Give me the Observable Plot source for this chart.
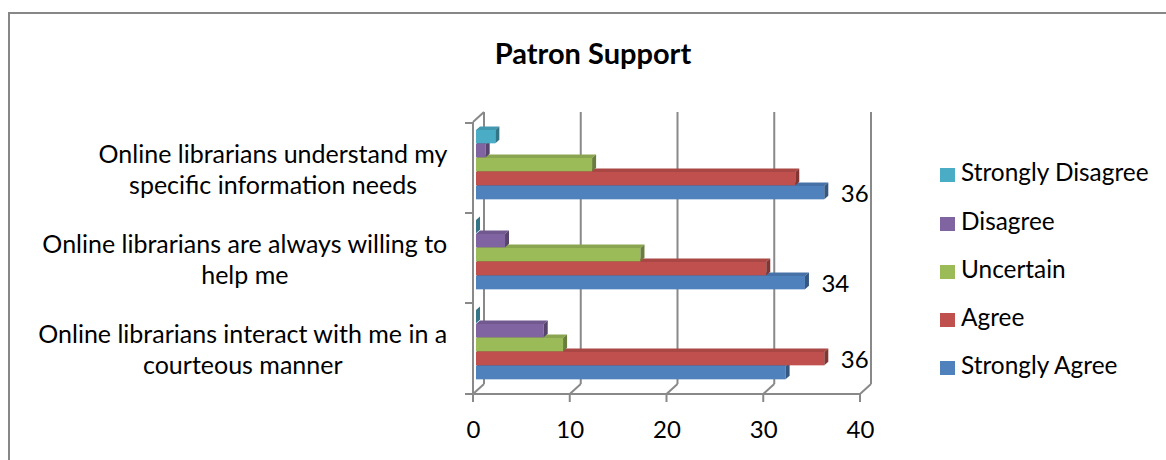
<!DOCTYPE html>
<html>
<head>
<meta charset="utf-8">
<script src="https://cdn.jsdelivr.net/npm/d3@7"></script>
<script src="https://cdn.jsdelivr.net/npm/@observablehq/plot@0.6"></script>
<style>
  html, body { margin: 0; padding: 0; background: #fff; }
  #wrap { position: relative; width: 1166px; height: 460px; overflow: hidden; background: #fff; font-family: Lato, sans-serif; }
  #border { position: absolute; left: 8px; top: 12px; width: 1300px; height: 600px; border: 2px solid #878787; box-sizing: border-box; }
  #title { position: absolute; left: 0; top: 37.6px; width: 1186px; text-align: center; font-weight: bold; font-size: 29px; line-height: 29px; color: #000; }
  #chart { position: absolute; left: 0; top: 0; }
  .lg-row { position: absolute; left: 961px; height: 24px; line-height: 24px; font-size: 24.4px; color: #000; white-space: nowrap; }
  .lg-sw { position: absolute; left: -21px; top: 8px; width: 15px; height: 14px; }
</style>
</head>
<body>
<div id="wrap">
  <div id="border"></div>
  <div id="title"></div>
  <div id="chart"></div>
  <div id="legend"></div>
</div>
<script>
// ---- data ----
const chartTitle = "Patron Support";
const categories = [
  "Online librarians understand my\nspecific information needs",
  "Online librarians are always willing to\nhelp me",
  "Online librarians interact with me in a\ncourteous manner"
];
const series = ["Strongly Disagree", "Disagree", "Uncertain", "Agree", "Strongly Agree"];
const stronglyDisagree = [2, 0, 0];
const disagree = [1, 3, 7];
const uncertain = [12, 17, 9];
const agree = [33, 30, 36];
const stronglyAgree = [36, 34, 32];
const seriesColors = ["#4BACC6", "#8064A2", "#9BBB59", "#C0504D", "#4F81BD"];
const xTicks = [0, 10, 20, 30, 40];

// ---- layout / style ----
const W = 1166, H = 460;
const mL = 473, mR = 306, mT = 122, mB = 66;
const BW = (H - mT - mB) / categories.length;
const barTop = 10, barH = 14;          // position of first bar inside a band, bar thickness
const shiftX = 3, shiftY = -3;         // bars sit at mid depth
const faceX = 4, faceY = -3.5;         // depth of each bar
const wallX = 11, wallY = -10;         // depth of walls / floor
const tickLen = 8;
const gridColor = "#898989";
const fontSize = 24;
const catFontSize = 25;

const valuesBySeries = [stronglyDisagree, disagree, uncertain, agree, stronglyAgree];
const rows = series.flatMap((s, i) => categories.map((c, j) => ({category: c, series: s, si: i, value: valuesBySeries[i][j]})));
const maxByCat = new Map(categories.map((c, j) => [c, d3.max(valuesBySeries, v => v[j])]));
const labelRows = rows.filter(r => r.value === maxByCat.get(r.category));

// 3D faces drawn on top of Plot's bar rects
function faces3D(color) {
  const topC = d3.color(color).darker(0.35).formatHex();
  const sideC = d3.color(color).darker(1.1).formatHex();
  return function(index, scales, values, dimensions, context, next) {
    const g = next(index, scales, values, dimensions, context);
    const rects = Array.from(g.querySelectorAll("rect"));
    for (const r of rects) {
      const x = +r.getAttribute("x"), y = +r.getAttribute("y");
      const w = +r.getAttribute("width"), h = +r.getAttribute("height");
      const parent = r.parentNode;
      const ns = "http://www.w3.org/2000/svg";
      const top = document.createElementNS(ns, "polygon");
      top.setAttribute("points", [[x, y], [x + faceX, y + faceY], [x + w + faceX, y + faceY], [x + w, y]].map(p => p.join(",")).join(" "));
      top.setAttribute("fill", topC);
      const side = document.createElementNS(ns, "polygon");
      side.setAttribute("points", [[x + w, y], [x + w + faceX, y + faceY], [x + w + faceX, y + h + faceY], [x + w, y + h]].map(p => p.join(",")).join(" "));
      side.setAttribute("fill", sideC);
      parent.insertBefore(top, r.nextSibling);
      parent.insertBefore(side, top.nextSibling);
    }
    return g;
  };
}

// walls, floor, gridlines and ticks
function frame3D(index, scales, values, dimensions) {
  const {x, y} = scales;
  const top = dimensions.marginTop, bottom = dimensions.height - dimensions.marginBottom;
  const x0 = x(xTicks[0]), xN = x(xTicks[xTicks.length - 1]);
  const lines = [];
  for (const v of xTicks) {
    const xv = x(v);
    lines.push([xv + wallX, top + wallY, xv + wallX, bottom + wallY]);
    lines.push([xv, bottom, xv + wallX, bottom + wallY]);
    lines.push([xv, bottom, xv, bottom + tickLen]);
  }
  lines.push([x0 - tickLen, bottom, xN, bottom]);
  lines.push([x0, top, x0, bottom]);
  lines.push([x0, top, x0 + wallX, top + wallY]);
  for (const c of categories) lines.push([x0 - tickLen, y(c), x0, y(c)]);
  const g = d3.create("svg:g").attr("stroke", gridColor).attr("stroke-width", 2).attr("fill", "none");
  g.selectAll("line").data(lines).join("line")
    .attr("x1", d => d[0]).attr("y1", d => d[1]).attr("x2", d => d[2]).attr("y2", d => d[3]);
  return g.node();
}

const barMarks = series.map((s, i) => Plot.barX(rows.filter(r => r.series === s), {
  y: "category",
  x1: 0,
  x2: "value",
  fill: seriesColors[i],
  insetTop: barTop + i * barH,
  insetBottom: BW - barTop - (i + 1) * barH,
  dx: shiftX,
  dy: shiftY,
  render: faces3D(seriesColors[i])
}));

const valueLabelMarks = series.map((s, i) => Plot.text(labelRows.filter(r => r.si === i), {
  x: "value",
  y: "category",
  text: d => String(d.value),
  textAnchor: "start",
  dx: 19,
  dy: barTop + i * barH + barH / 2 + shiftY - BW / 2 + 1,
  fontSize: fontSize,
  fill: "#000"
}));

const ctx = document.createElement("canvas").getContext("2d");
ctx.font = `${catFontSize}px Lato`;
const maxLineWidth = c => d3.max(c.split("\n"), l => ctx.measureText(l).width);

const categoryLabelMarks = categories.map(c => Plot.text([c], {
  y: d => d,
  text: d => d,
  frameAnchor: "left",
  textAnchor: "middle",
  lineHeight: 1.24,
  dx: -(26 + maxLineWidth(c) / 2),
  fontSize: catFontSize,
  fill: "#000"
}));

const chart = Plot.plot({
  width: W,
  height: H,
  marginLeft: mL,
  marginRight: mR,
  marginTop: mT,
  marginBottom: mB,
  style: {fontFamily: "Lato", background: "transparent", color: "#000", overflow: "visible"},
  x: {domain: [xTicks[0], xTicks[xTicks.length - 1]], axis: null},
  y: {domain: categories, padding: 0, axis: null},
  marks: [
    frame3D,
    ...barMarks.slice().reverse(),
    ...valueLabelMarks,
    ...categoryLabelMarks,
    Plot.axisX({ticks: xTicks, tickSize: 0, tickPadding: 26, fontSize: fontSize, fill: "#000", label: null, tickFormat: d => String(d)})
  ]
});
document.getElementById("chart").appendChild(chart);

document.getElementById("title").textContent = chartTitle;

const legend = document.getElementById("legend");
series.forEach((s, i) => {
  const row = document.createElement("div");
  row.className = "lg-row";
  row.style.top = (160.4 + i * 48.1) + "px";
  const sw = document.createElement("span");
  sw.className = "lg-sw";
  sw.style.background = seriesColors[i];
  row.appendChild(sw);
  row.appendChild(document.createTextNode(s));
  legend.appendChild(row);
});
</script>
</body>
</html>
